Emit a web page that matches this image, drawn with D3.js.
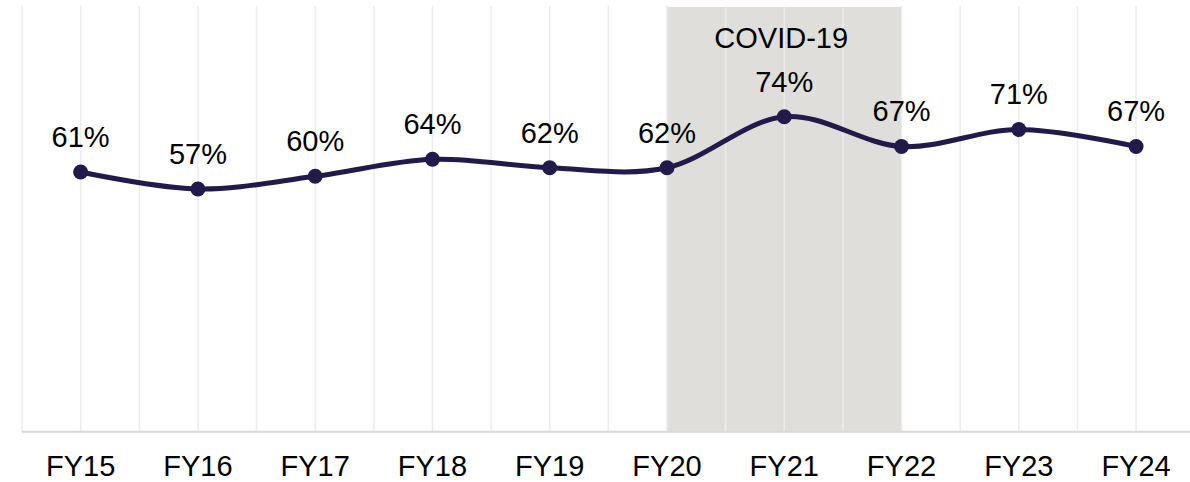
<!DOCTYPE html>
<html>
<head>
<meta charset="utf-8">
<script src="https://cdn.jsdelivr.net/npm/d3@7/dist/d3.min.js"></script>
<style>
  html, body { margin: 0; padding: 0; background: #ffffff; }
  svg { display: block; }
  text { font-family: "Liberation Sans", Arial, sans-serif; fill: #000000; }
</style>
</head>
<body>
<svg id="chart" width="1190" height="482"></svg>
<script>
// Fiscal years shown along the axis
const years = ["FY15", "FY16", "FY17", "FY18", "FY19", "FY20", "FY21", "FY22", "FY23", "FY24"];
// Share per fiscal year, in percent
const shares = [61, 57, 60, 64, 62, 62, 74, 67, 71, 67];
// Highlighted period
const periodStart = "FY20";
const periodEnd = "FY22";
const periodLabel = "COVID-19";

const W = 1190, H = 482;
const plot = { left: 22, top: 6, bottom: 431.7, step: 117.27 };
const fontSize = "29px";

const svg = d3.select("#chart");

const x = d3.scaleBand()
  .domain(years)
  .range([plot.left, plot.left + plot.step * years.length])
  .padding(0);
const cx = d => x(d) + x.bandwidth() / 2;

const y = d3.scaleLinear().domain([0, 100]).range([plot.bottom, plot.top]);

// Highlighted band between two category centres
svg.append("rect")
  .attr("x", cx(periodStart))
  .attr("y", plot.top + 1)
  .attr("width", cx(periodEnd) - cx(periodStart))
  .attr("height", plot.bottom - plot.top - 1)
  .attr("fill", "#dfdedb");

// Vertical gridlines at category edges and centres
const gridX = [];
years.forEach(d => { gridX.push(x(d)); gridX.push(cx(d)); });
svg.append("g")
  .selectAll("line")
  .data(gridX.filter(v => v < W))
  .join("line")
  .attr("x1", d => d).attr("x2", d => d)
  .attr("y1", plot.top).attr("y2", plot.bottom)
  .attr("stroke", "#ececec")
  .attr("stroke-width", 1.5);

// Category axis
const axis = svg.append("g")
  .attr("transform", `translate(0,${plot.bottom})`)
  .call(d3.axisBottom(x).tickSize(0).tickPadding(0));
axis.select(".domain")
  .attr("d", `M${plot.left},0H${W}`)
  .attr("stroke", "#d9d9d9")
  .attr("stroke-width", 2);
axis.selectAll(".tick text")
  .attr("dy", null)
  .attr("y", 44.5)
  .style("font-size", fontSize)
  .style("font-family", "'Liberation Sans', Arial, sans-serif")
  .attr("fill", "#000");

// Period label
svg.append("text")
  .attr("x", (cx(periodStart) + cx(periodEnd)) / 2 - 3)
  .attr("y", 48)
  .attr("text-anchor", "middle")
  .style("font-size", fontSize)
  .text(periodLabel);

const points = years.map((d, i) => [cx(d), y(shares[i])]);

// Smoothed series line
svg.append("path")
  .attr("d", d3.line().curve(d3.curveCardinal.tension(0))(points))
  .attr("fill", "none")
  .attr("stroke", "#221a4a")
  .attr("stroke-width", 5)
  .attr("stroke-linecap", "round");

// Markers
svg.append("g")
  .selectAll("circle")
  .data(points)
  .join("circle")
  .attr("cx", d => d[0])
  .attr("cy", d => d[1])
  .attr("r", 7.5)
  .attr("fill", "#221a4a");

// Value labels
svg.append("g")
  .selectAll("text")
  .data(years)
  .join("text")
  .attr("x", d => cx(d))
  .attr("y", (d, i) => y(shares[i]) - 25)
  .attr("text-anchor", "middle")
  .style("font-size", fontSize)
  .text((d, i) => shares[i] + "%");
</script>
</body>
</html>
